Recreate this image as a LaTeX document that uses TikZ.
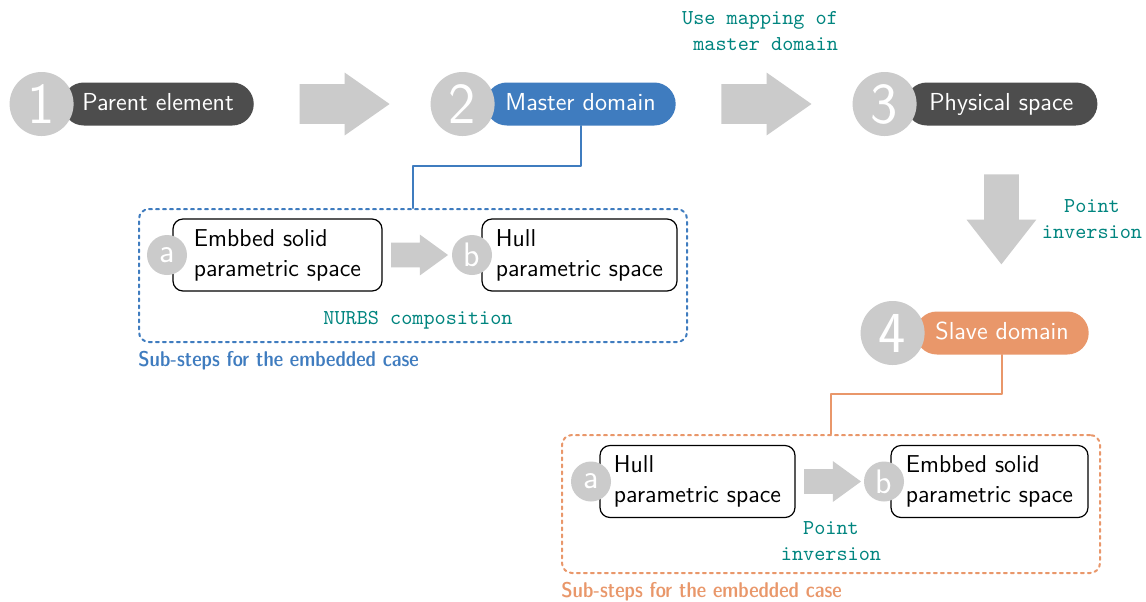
\documentclass[tikz,border=0pt]{standalone}
\usepackage{tikz}
\usetikzlibrary{arrows.meta,calc,positioning,shapes.arrows}
\definecolor{stepdark}{HTML}{4D4D4D}
\definecolor{stepblue}{HTML}{3F7CBF}
\definecolor{steporange}{HTML}{E9976A}
\definecolor{stepgray}{HTML}{CBCBCB}
\definecolor{noteteal}{HTML}{00857F}

\begin{document}
\begin{tikzpicture}[x=0.5pt,y=-0.5pt,line cap=round,line join=round,
  font=\sffamily,
  pill/.style={fill=#1,rounded corners=10.75pt,anchor=west,text=white,inner xsep=10pt,minimum height=21.5pt,text height=8.5pt,text depth=2.5pt,font=\sffamily\fontsize{12.3}{14}\selectfont},
  num/.style={circle,fill=stepgray,text=white,inner sep=0pt,minimum size=32pt,font=\sffamily\fontsize{29}{29}\selectfont},
  subnum/.style={circle,fill=stepgray,text=white,inner sep=0pt,minimum size=20pt,font=\sffamily\fontsize{17}{17}\selectfont},
  subbox/.style={draw=black,fill=white,line width=0.6pt,rounded corners=5pt,align=left,minimum height=36pt,font=\sffamily\fontsize{12.2}{15}\selectfont},
  bigarrow/.style={single arrow,fill=stepgray,inner sep=0pt,inner ysep=9.75pt,single arrow head extend=5.75pt,single arrow tip angle=70,minimum height=45pt,anchor=tail},
  downarrow/.style={bigarrow,inner ysep=8.5pt,single arrow head extend=8.75pt,single arrow tip angle=76,rotate=-90},
  smallarrow/.style={single arrow,fill=stepgray,inner sep=0pt,inner ysep=6pt,single arrow head extend=4pt,single arrow tip angle=72,minimum height=28.5pt,anchor=tail},
  note/.style={text=noteteal,align=center,font=\ttfamily\fontsize{10.6}{12.7}\selectfont},
  subgroup/.style={draw=#1,line width=1pt,dash pattern=on 1.5pt off 2pt,rounded corners=5pt},
  grouplabel/.style={text=#1,anchor=north west,inner sep=0pt,font=\sffamily\fontseries{sbc}\fontsize{10.7}{12}\selectfont},
  link/.style={draw=#1,line width=1pt}]
\path[use as bounding box] (0,0) rectangle (1146,601);
\fill[white] (0,0) rectangle (1146,601);
\node[pill=stepdark] (p1) at (62,104) {Parent element};
\node[num,left=-6pt of p1] (c1) {1};
\node[pill=stepblue] (p2) at (485,104) {Master domain};
\node[num,left=-5pt of p2] (c2) {2};
\node[pill=stepdark,minimum width=96pt] (p3) at (905,104) {Physical space};
\node[num,left=-6pt of p3] (c3) {3};
\node[pill=steporange] (p4) at (915,333) {Slave domain};
\node[num,left=-5pt of p4] (c4) {4};
\node[bigarrow] (a12) at ([xshift=22.5pt]p1.east) {};
\node[bigarrow] (a23) at ([xshift=22.5pt]p2.east) {};
\node[downarrow] (a34) at ([yshift=-24pt]p3.south) {};
\node[note,align=right,anchor=east] (mapnote) at (845,31) {Use mapping of\\master domain};
\node[note] (invnote) at (1092,219) {Point\\inversion};
\node[subgroup=stepblue,minimum width=274pt,minimum height=66.5pt] (mgroup) at (413,275.5) {};
\node[subbox,minimum width=104.5pt] (mb1) at (277.5,255) {Embbed solid\\parametric space};
\node[subnum,left=-7.5pt of mb1] (ma) {a};
\node[subbox,minimum width=97.5pt] (mb2) at (579.5,255) {Hull\\parametric space};
\node[subnum,left=-5.5pt of mb2] (mbnum) {b};
\node[smallarrow] (marr) at ([xshift=4pt]mb1.east) {};
\node[note] (nurbs) at (418,320) {NURBS composition};
\node[grouplabel=stepblue] (mlabel) at ([yshift=-4pt]mgroup.south west) {Sub-steps for the embedded case};
\node[subgroup=steporange,minimum width=269pt,minimum height=69pt] (sgroup) at (831,504) {};
\node[subbox,minimum width=97.5pt] (sb1) at (697.5,481.5) {Hull\\parametric space};
\node[subnum,left=-6pt of sb1] (sa) {a};
\node[subbox,minimum width=98.5pt] (sb2) at (989.5,481.5) {Embbed solid\\parametric space};
\node[subnum,left=-7pt of sb2] (sbnum) {b};
\node[smallarrow] (sarr) at ([xshift=4pt]sb1.east) {};
\node[note] (sinv) at (831,541) {Point\\inversion};
\node[grouplabel=steporange] (slabel) at ([yshift=-4pt]sgroup.south west) {Sub-steps for the embedded case};
\draw[link=stepblue] (p2.south) -- ++(0,-20pt) -| (mgroup.north);
\draw[link=steporange] (p4.south) -- ++(0,-19.5pt) -| (sgroup.north);
\end{tikzpicture}
\end{document}
